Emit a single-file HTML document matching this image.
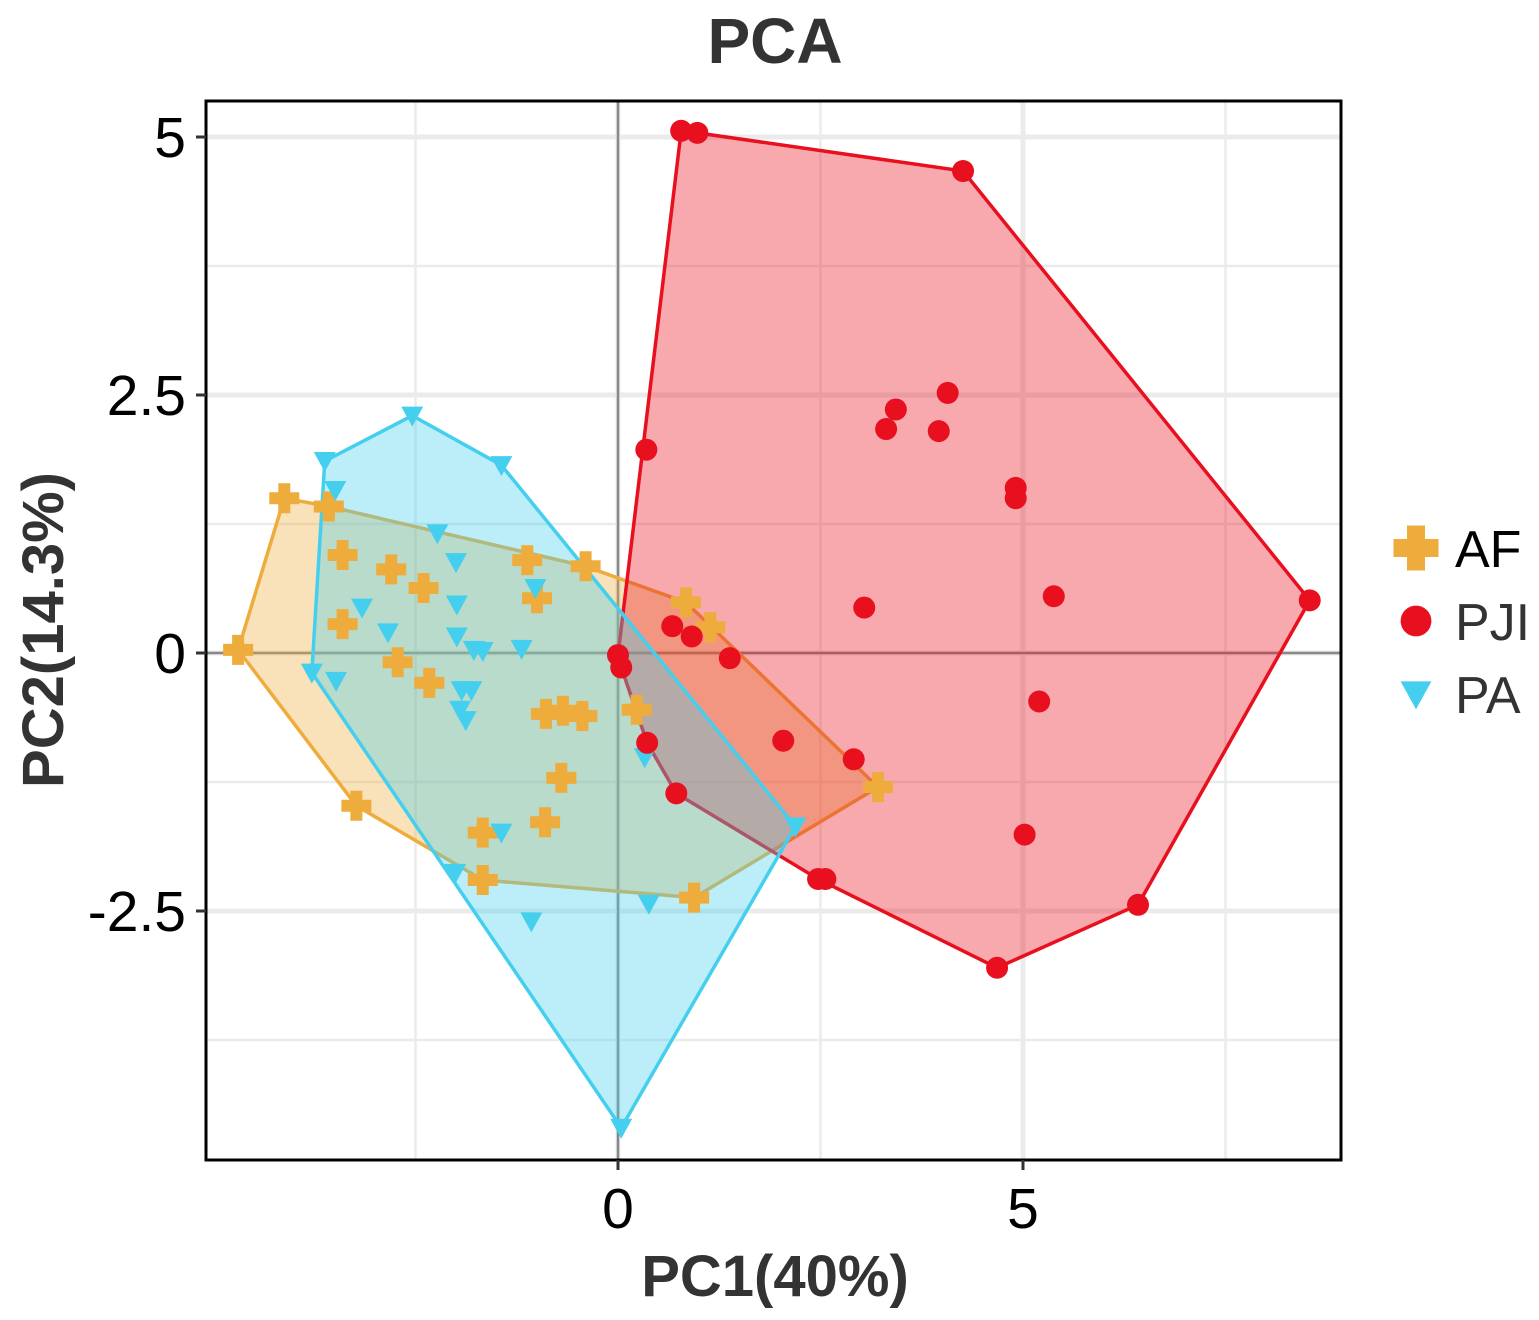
<!DOCTYPE html>
<html><head><meta charset="utf-8"><style>
html,body{margin:0;padding:0;background:#fff;}
svg{display:block;font-family:"Liberation Sans",Arial,sans-serif;}
</style></head><body>
<svg id="chart" width="1539" height="1320" viewBox="0 0 1539 1320" xmlns="http://www.w3.org/2000/svg">
<rect x="0" y="0" width="1539" height="1320" fill="#fff"/>
<text x="775" y="63" font-size="64" font-weight="bold" fill="#333" text-anchor="middle">PCA</text>
<g id="grid"></g>
<g id="hulls"></g>
<g id="points"></g>
<rect x="206" y="101" width="1135" height="1059" fill="none" stroke="#000" stroke-width="3"/>
<g id="ticks"></g>
<text x="775" y="1296" font-size="58" font-weight="bold" fill="#333" text-anchor="middle">PC1(40%)</text>
<text transform="translate(63,630) rotate(-90)" font-size="58" font-weight="bold" fill="#333" text-anchor="middle">PC2(14.3%)</text>
<g id="legend"></g>
</svg>
<script>
const groups = ["AF","PJI","PA"];
const afX = [-4.12,-3.57,-4.69,-3.40,-2.80,-2.40,-3.40,-2.72,-2.33,-3.23,-1.67,-1.67,-0.90,-0.70,-0.89,-0.68,-0.44,0.23,-1.12,-1.00,-0.40,0.84,1.14,3.21,0.94];
const afY = [1.50,1.42,0.03,0.95,0.81,0.63,0.28,-0.09,-0.29,-1.48,-1.74,-2.20,-1.64,-1.21,-0.59,-0.56,-0.61,-0.55,0.90,0.53,0.84,0.49,0.25,-1.30,-2.37];
const pjiX = [0.78,0.98,4.26,0.35,4.07,3.43,3.31,3.96,4.91,4.91,3.04,5.38,8.54,0.67,0.91,0,0.04,1.38,5.20,0.36,2.04,2.91,0.72,5.02,2.47,2.56,6.42,4.68];
const pjiY = [5.06,5.04,4.67,1.97,2.52,2.36,2.17,2.15,1.60,1.50,0.44,0.55,0.51,0.26,0.16,-0.02,-0.14,-0.05,-0.47,-0.87,-0.85,-1.03,-1.36,-1.76,-2.19,-2.19,-2.44,-3.05];
const paX = [-2.54,-3.62,-3.49,-1.44,-2.23,-2.00,-1.02,-3.16,-1.99,-2.84,-1.99,-1.78,-1.67,-1.19,-3.78,-3.48,-1.93,-1.81,-1.95,-1.88,0.33,-1.44,2.19,-2.01,-1.07,0.38,0.04];
const paY = [2.30,1.86,1.58,1.82,1.16,0.88,0.63,0.44,0.47,0.20,0.16,0.03,0.02,0.04,-0.19,-0.27,-0.36,-0.36,-0.55,-0.65,-1.01,-1.74,-1.68,-2.13,-2.60,-2.43,-4.60];
const xTicks = [0,5];
const yTicks = [5,2.5,0,-2.5];
const xTickLabels = ["0","5"];
const yTickLabels = ["5","2.5","0","-2.5"];

const NS="http://www.w3.org/2000/svg";
const X = v => 618 + v*81;
const Y = v => 653 - v*103.2;
const colors = {AF:"#EEAC3C", PJI:"#E8101E", PA:"#45CFEE"};
function mk(tag, attrs, parent){const e=document.createElementNS(NS,tag);for(const k in attrs)e.setAttribute(k,attrs[k]);parent.appendChild(e);return e;}
const grid=document.getElementById('grid');
mk('rect',{x:206,y:101,width:1135,height:1059,fill:'#fff'},grid);
[-2.5,2.5,7.5].forEach(v=>{const l=mk('line',{x1:X(v),x2:X(v),y1:101,y2:1160,stroke:'#ebebeb','stroke-width':2.5},grid);

});
[3.75,1.25,-1.25,-3.75].forEach(v=>{const l=mk('line',{x1:206,x2:1341,y1:Y(v),y2:Y(v),stroke:'#ebebeb','stroke-width':2.5},grid);

});
xTicks.forEach(v=>{const l=mk('line',{x1:X(v),x2:X(v),y1:101,y2:1160,stroke:'#ebebeb','stroke-width':5},grid);

});
yTicks.forEach(v=>{const l=mk('line',{x1:206,x2:1341,y1:Y(v),y2:Y(v),stroke:'#ebebeb','stroke-width':5},grid);

});
const z1=mk('line',{x1:X(0),x2:X(0),y1:101,y2:1160,stroke:'#888','stroke-width':2.5},grid);


const z2=mk('line',{x1:206,x2:1341,y1:Y(0),y2:Y(0),stroke:'#888','stroke-width':2.5},grid);



function hull(pts){pts=pts.slice().sort((a,b)=>a[0]-b[0]||a[1]-b[1]);
const cr=(o,a,b)=>(a[0]-o[0])*(b[1]-o[1])-(a[1]-o[1])*(b[0]-o[0]);
const lo=[],up=[];for(const p of pts){while(lo.length>=2&&cr(lo[lo.length-2],lo[lo.length-1],p)<=0)lo.pop();lo.push(p);}
for(let i=pts.length-1;i>=0;i--){const p=pts[i];while(up.length>=2&&cr(up[up.length-2],up[up.length-1],p)<=0)up.pop();up.push(p);}
lo.pop();up.pop();return lo.concat(up);}
const data={AF:[afX,afY],PJI:[pjiX,pjiY],PA:[paX,paY]};
const hg=document.getElementById('hulls'), pg=document.getElementById('points');
["AF","PJI","PA"].forEach(g=>{
  const [xs,ys]=data[g];const pts=xs.map((x,i)=>[X(x),Y(ys[i])]);
  const h=hull(pts);
  const p=mk('polygon',{points:h.map(q=>q.join(',')).join(' '),fill:colors[g],'fill-opacity':0.36,stroke:colors[g],'stroke-width':3.5},hg);
  
  
});
function marker(g,cx,cy,parent,s){
  let e;
  if(g==='AF'){const a=15*s,w=6*s;
    e=mk('path',{d:`M${cx-w},${cy-a}h${2*w}v${a-w}h${a-w}v${2*w}h${-(a-w)}v${a-w}h${-2*w}v${-(a-w)}h${-(a-w)}v${-2*w}h${a-w}z`,fill:colors.AF},parent);}
  else if(g==='PJI'){e=mk('circle',{cx:cx,cy:cy,r:11*s,fill:colors.PJI},parent);}
  else {const w=11*s;e=mk('polygon',{points:`${cx-w},${cy-9*s} ${cx+w},${cy-9*s} ${cx},${cy+11*s}`,fill:colors.PA},parent);}
  return e;
}
["AF","PA","PJI"].forEach(g=>{
  const [xs,ys]=data[g];
  xs.forEach((x,i)=>{const m=marker(g,X(x),Y(ys[i]),pg,1);
    
    });
});
const tg=document.getElementById('ticks');
xTicks.forEach((v,i)=>{mk('line',{x1:X(v),x2:X(v),y1:1160,y2:1170,stroke:'#333','stroke-width':3},tg);
  const t=mk('text',{x:X(v),y:1228,'font-size':57,fill:'#000','text-anchor':'middle'},tg);t.textContent=xTickLabels[i];
  
  });
yTicks.forEach((v,i)=>{mk('line',{x1:196,x2:206,y1:Y(v),y2:Y(v),stroke:'#333','stroke-width':3},tg);
  const t=mk('text',{x:186,y:Y(v)+20,'font-size':57,fill:'#000','text-anchor':'end'},tg);t.textContent=yTickLabels[i];
  
  });
const lg=document.getElementById('legend');
groups.forEach((g,i)=>{const cy=548+i*73;
  const item=mk('g',{},lg);
  
  
  marker(g,1416,cy,item,g==='AF'?1.5:1.4);
  const t=mk('text',{x:1455,y:cy+19,'font-size':52,fill:g==='AF'?'#000':'#333'},item);t.textContent=g;
});
</script>
</body></html>
